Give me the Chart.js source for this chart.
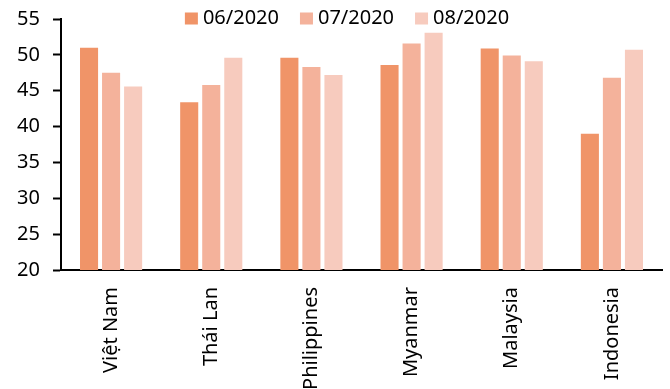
<!DOCTYPE html>
<html>
<head>
<meta charset="utf-8">
<script src="https://cdn.jsdelivr.net/npm/chart.js@4.4.1/dist/chart.umd.min.js"></script>
<style>
  html, body { margin: 0; padding: 0; background: #fff; }
  #chart { display: block; }
</style>
</head>
<body>
<canvas id="chart" width="670" height="389"></canvas>
<script>
// ----------------------
// DATA
// ----------------------
const countries = ["Việt Nam", "Thái Lan", "Philippines", "Myanmar", "Malaysia", "Indonesia"];
const seriesLabels = ["06/2020", "07/2020", "08/2020"];
const june = [51.0, 43.4, 49.6, 48.6, 50.9, 39.0];
const july = [47.5, 45.8, 48.3, 51.6, 49.9, 46.8];
const august = [45.6, 49.6, 47.2, 53.1, 49.1, 50.7];
const yMin = 20;
const yMax = 55;
const yStep = 5;

const seriesColors = ["#f09468", "#f4b29b", "#f7cbbe"];
const FONT = "Noto Sans";
const FONT_SIZE = 20;


// ----------------------
// LEGEND (drawn over the top of the plot, like the source)
// ----------------------
const topLegend = {
  id: "topLegend",
  afterDraw(chart) {
    const ctx = chart.ctx;
    const box = 13;
    const gap = 5;
    const spacing = 21;
    ctx.save();
    ctx.font = FONT_SIZE + "px '" + FONT + "'";
    ctx.textBaseline = "middle";
    ctx.fillStyle = "#000";

    const items = chart.data.datasets.map(ds => ({
      label: ds.label,
      color: ds.backgroundColor,
      w: box + gap + ctx.measureText(ds.label).width
    }));
    const total = items.reduce((s, it) => s + it.w, 0) + spacing * (items.length - 1);
    let x = 347 - total / 2;
    const yMid = 18.5;

    items.forEach(it => {
      ctx.fillStyle = it.color;
      ctx.fillRect(x, yMid - 6, box, 12);
      ctx.fillStyle = "#000";
      ctx.fillText(it.label, x + box + gap, yMid);
      x += it.w + spacing;
    });
    ctx.restore();
  }
};


// ----------------------
// BAR CHART
// ----------------------
function drawChart() {
  const ctx = document.getElementById("chart").getContext("2d");

  new Chart(ctx, {
    type: "bar",
    data: {
      labels: countries,
      datasets: [june, july, august].map((values, i) => ({
        label: seriesLabels[i],
        data: values,
        backgroundColor: seriesColors[i],
        borderWidth: 0,
        categoryPercentage: 0.66,
        barPercentage: 0.82
      }))
    },
    options: {
      responsive: false,
      animation: false,
      devicePixelRatio: 1,
      layout: {
        padding: { top: 19, right: 8, left: 0, bottom: 0 }
      },
      plugins: {
        legend: { display: false },
        tooltip: { enabled: false }
      },
      scales: {
        x: {
          grid: { display: false, drawTicks: false },
          border: { display: true, color: "#000", width: 2 },
          ticks: {
            color: "#000",
            font: { family: FONT, size: FONT_SIZE },
            minRotation: 90,
            maxRotation: 90,
            padding: 17,
            autoSkip: false
          },
          afterFit(scale) { scale.height = 119; }
        },
        y: {
          min: yMin,
          max: yMax,
          grid: {
            drawOnChartArea: false,
            drawTicks: true,
            tickLength: 8,
            tickWidth: 2,
            color: "#000"
          },
          border: { display: true, color: "#000", width: 2 },
          ticks: {
            stepSize: yStep,
            color: "#000",
            font: { family: FONT, size: FONT_SIZE },
            padding: 13
          },
          afterFit(scale) {
            scale.width = 61;
            scale.paddingTop = 0;   // tick padding otherwise pushes the plot down
            scale.paddingBottom = 0;
          }
        }
      }
    },
    plugins: [topLegend]
  });
}

document.fonts.load(FONT_SIZE + "px '" + FONT + "'").then(drawChart, drawChart);
</script>
</body>
</html>
